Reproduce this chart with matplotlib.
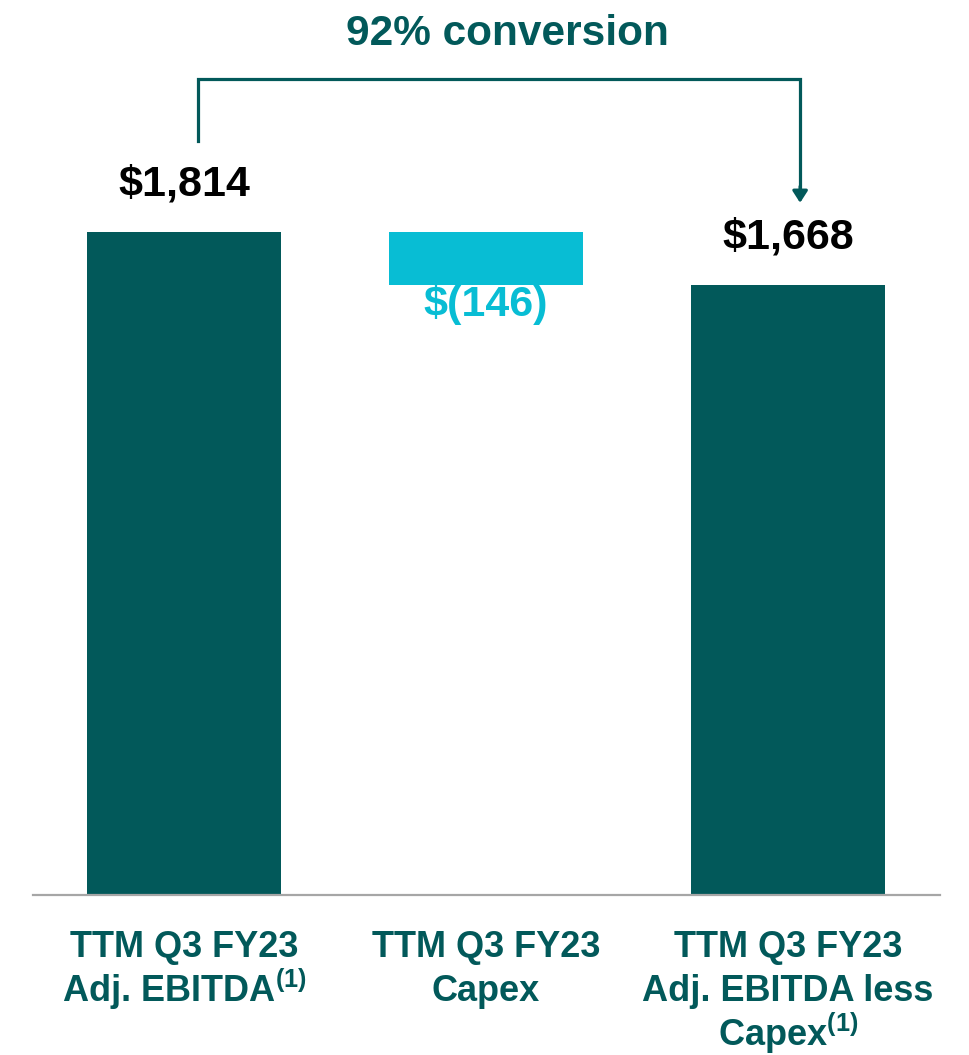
import matplotlib.pyplot as plt

plt.rcParams['font.family'] = ['Liberation Sans', 'DejaVu Sans']
plt.rcParams['mathtext.fontset'] = 'custom'
plt.rcParams['mathtext.rm'] = 'Liberation Sans:bold'
plt.rcParams['mathtext.bf'] = 'Liberation Sans:bold'
plt.rcParams['mathtext.it'] = 'Liberation Sans:bold'

# data
categories = [
    ["TTM Q3 FY23", "Adj. EBITDA$^{(1)}$"],
    ["TTM Q3 FY23", "Capex"],
    ["TTM Q3 FY23", "Adj. EBITDA less", "Capex$^{(1)}$"],
]
ebitda = 1814
capex = 146
ebitda_less_capex = 1668
value_labels = ["$1,814", "$(146)", "$1,668"]
conversion_label = "92% conversion"

TEAL = "#02595A"
CYAN = "#08BDD4"

fig = plt.figure(figsize=(9.69, 10.55), dpi=100)
ax = fig.add_axes([0.034, 0.1517, 0.936, 0.8483])

x = [0, 1, 2]
width = 0.642
ax.bar(x[0], ebitda, width=width, color=TEAL)
ax.bar(x[1], capex, bottom=ebitda_less_capex, width=width, color=CYAN)
ax.bar(x[2], ebitda_less_capex, width=width, color=TEAL)

ax.set_xlim(-0.5, 2.503)
ax.set_ylim(0, 2449)

# value labels
ax.annotate(value_labels[0], (x[0], ebitda), xytext=(0, 20), textcoords="offset points",
            ha="center", va="bottom", fontsize=31, fontweight="bold", color="black")
ax.annotate(value_labels[2], (x[2], ebitda_less_capex), xytext=(0, 20), textcoords="offset points",
            ha="center", va="bottom", fontsize=31, fontweight="bold", color="black")
ax.annotate(value_labels[1], (x[1], ebitda_less_capex), xytext=(0, 1), textcoords="offset points",
            ha="center", va="top", fontsize=31, fontweight="bold", color=CYAN)

# conversion bracket
y_low = ebitda + 250
y_top = ebitda + 420
y_tip = ebitda + 80
ax.plot([0.046, 0.046, 2.04, 2.04], [y_low, y_top, y_top, y_tip + 40],
        color=TEAL, lw=2.3, solid_joinstyle="miter", clip_on=False)
ax.annotate("", xy=(2.04, y_tip), xytext=(2.04, y_tip + 45),
            arrowprops=dict(arrowstyle="-|>,head_width=0.45,head_length=0.7",
                            color=TEAL, lw=2.3, shrinkA=0, shrinkB=0),
            annotation_clip=False)
fig.text(0.524, 0.968, conversion_label, ha="center", va="center",
         fontsize=30.5, fontweight="bold", color=TEAL)

# axes styling
for side in ["top", "right", "left"]:
    ax.spines[side].set_visible(False)
ax.spines["bottom"].set_color("#A6A6A6")
ax.spines["bottom"].set_linewidth(1.6)
ax.set_yticks([])
ax.set_xticks([])

# category labels, one line at a time so the spacing stays even
for xi, lines in zip(x, categories):
    for i, line in enumerate(lines):
        ax.annotate(line, (xi, 0), xytext=(0, -44.5 - 32.2 * i), textcoords="offset points",
                    ha="center", va="baseline", fontsize=26, fontweight="bold",
                    color=TEAL, annotation_clip=False)

fig.savefig("out.png", dpi=100)
